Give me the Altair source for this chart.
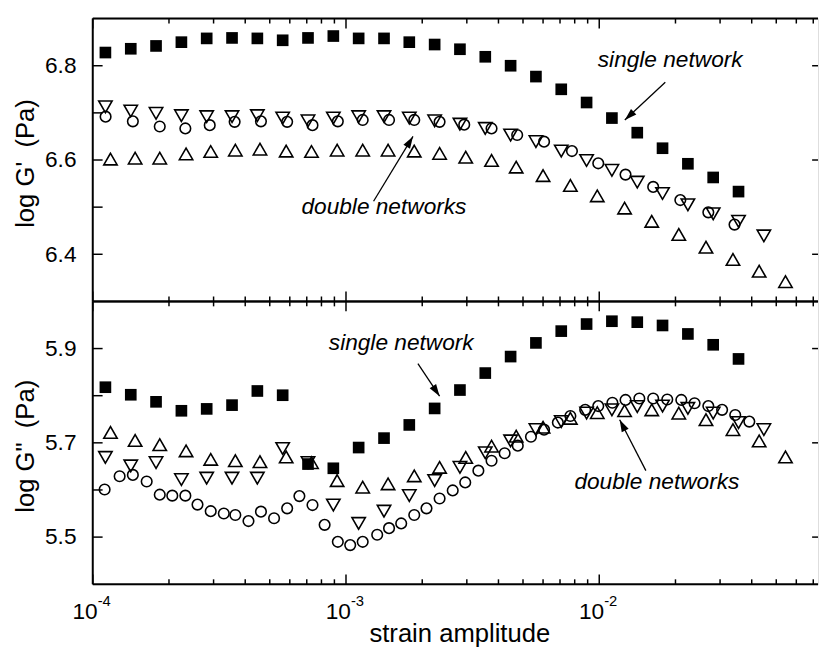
import math
import altair as alt
import pandas as pd

# ---------------- data ----------------
# strain amplitude of each series
strain_sq = [1.122e-4, 1.413e-4, 1.778e-4, 2.239e-4, 2.818e-4, 3.548e-4, 4.467e-4, 5.623e-4, 7.079e-4, 8.913e-4,
             1.122e-3, 1.413e-3, 1.778e-3, 2.239e-3, 2.818e-3, 3.548e-3, 4.467e-3, 5.623e-3, 7.079e-3, 8.913e-3,
             1.122e-2, 1.413e-2, 1.778e-2, 2.239e-2, 2.818e-2, 3.548e-2]
strain_dn = [1.122e-4, 1.413e-4, 1.778e-4, 2.239e-4, 2.818e-4, 3.548e-4, 4.467e-4, 5.623e-4, 7.079e-4, 8.913e-4,
             1.122e-3, 1.413e-3, 1.778e-3, 2.239e-3, 2.818e-3, 3.548e-3, 4.467e-3, 5.623e-3, 7.079e-3, 8.913e-3,
             1.122e-2, 1.413e-2, 1.778e-2, 2.239e-2, 2.818e-2, 3.548e-2, 4.467e-2]
strain_up = [1.175e-4, 1.470e-4, 1.839e-4, 2.336e-4, 2.923e-4, 3.656e-4, 4.574e-4, 5.805e-4, 7.308e-4, 9.226e-4,
             1.164e-3, 1.466e-3, 1.860e-3, 2.342e-3, 2.970e-3, 3.756e-3, 4.699e-3, 6.001e-3, 7.691e-3, 9.822e-3,
             1.259e-2, 1.612e-2, 2.061e-2, 2.639e-2, 3.373e-2, 4.280e-2, 5.437e-2]
strain_ci_top = [1.124e-4, 1.440e-4, 1.839e-4, 2.321e-4, 2.897e-4, 3.633e-4, 4.615e-4, 5.857e-4, 7.374e-4, 9.284e-4,
                 1.164e-3, 1.479e-3, 1.860e-3, 2.342e-3, 2.930e-3, 3.756e-3, 4.742e-3, 6.055e-3, 7.802e-3, 9.910e-3,
                 1.270e-2, 1.633e-2, 2.090e-2, 2.696e-2, 3.421e-2]
strain_ci_bot = [1.114e-4, 1.277e-4, 1.440e-4, 1.633e-4, 1.839e-4, 2.061e-4, 2.321e-4, 2.592e-4, 2.923e-4, 3.292e-4,
                 3.656e-4, 4.120e-4, 4.615e-4, 5.200e-4, 5.857e-4, 6.546e-4, 7.374e-4, 8.234e-4, 9.284e-4, 1.039e-3,
                 1.164e-3, 1.328e-3, 1.479e-3, 1.652e-3, 1.860e-3, 2.079e-3, 2.342e-3, 2.639e-3, 2.957e-3, 3.332e-3,
                 3.756e-3, 4.231e-3, 4.767e-3, 5.375e-3, 6.055e-3, 6.863e-3, 7.691e-3, 8.800e-3, 9.910e-3, 1.127e-2,
                 1.270e-2, 1.440e-2, 1.633e-2, 1.856e-2, 2.109e-2, 2.379e-2, 2.696e-2, 3.056e-2, 3.443e-2, 3.914e-2]

# log G' (top panel)
top_sq = [6.828, 6.836, 6.842, 6.850, 6.858, 6.859, 6.858, 6.854, 6.859, 6.863,
          6.858, 6.858, 6.850, 6.845, 6.835, 6.819, 6.800, 6.777, 6.750, 6.722,
          6.689, 6.658, 6.625, 6.592, 6.563, 6.533]
top_dn = [6.713, 6.704, 6.699, 6.694, 6.692, 6.692, 6.694, 6.689, 6.683, 6.689,
          6.692, 6.692, 6.689, 6.683, 6.676, 6.667, 6.653, 6.639, 6.619, 6.599,
          6.578, 6.553, 6.529, 6.505, 6.486, 6.470, 6.439]
top_up = [6.602, 6.604, 6.604, 6.613, 6.618, 6.621, 6.623, 6.619, 6.618, 6.621,
          6.621, 6.621, 6.619, 6.614, 6.606, 6.599, 6.585, 6.567, 6.546, 6.524,
          6.498, 6.470, 6.442, 6.415, 6.389, 6.364, 6.342]
top_ci = [6.692, 6.682, 6.671, 6.667, 6.674, 6.681, 6.682, 6.681, 6.674, 6.682,
          6.685, 6.685, 6.685, 6.681, 6.675, 6.667, 6.653, 6.639, 6.619, 6.593,
          6.569, 6.543, 6.515, 6.489, 6.463]

# log G'' (bottom panel)
bot_sq = [5.818, 5.802, 5.787, 5.768, 5.772, 5.780, 5.810, 5.801, 5.655, 5.646,
          5.690, 5.710, 5.738, 5.773, 5.812, 5.848, 5.883, 5.912, 5.937, 5.952,
          5.958, 5.956, 5.949, 5.931, 5.908, 5.878]
bot_dn = [5.669, 5.651, 5.658, 5.622, 5.625, 5.625, 5.625, 5.688, 5.658, 5.568,
          5.529, 5.555, 5.588, 5.620, 5.648, 5.679, 5.704, 5.728, 5.745, 5.763,
          5.770, 5.777, 5.778, 5.773, 5.763, 5.743, 5.728]
bot_up = [5.722, 5.705, 5.696, 5.683, 5.665, 5.662, 5.660, 5.670, 5.658, 5.620,
          5.606, 5.613, 5.630, 5.648, 5.669, 5.693, 5.714, 5.733, 5.752, 5.764,
          5.768, 5.770, 5.763, 5.749, 5.728, 5.704, 5.670]
bot_ci = [5.601, 5.629, 5.632, 5.618, 5.590, 5.588, 5.588, 5.569, 5.555, 5.550,
          5.547, 5.534, 5.554, 5.540, 5.561, 5.587, 5.568, 5.526, 5.490, 5.483,
          5.490, 5.505, 5.519, 5.529, 5.547, 5.561, 5.582, 5.599, 5.616, 5.641,
          5.662, 5.678, 5.694, 5.713, 5.728, 5.743, 5.757, 5.770, 5.778, 5.785,
          5.791, 5.794, 5.794, 5.792, 5.791, 5.784, 5.778, 5.770, 5.759, 5.745]

# axis ticks and labels
x_major = [1e-4, 1e-3, 1e-2]
x_major_base = ["10", "10", "10"]
x_major_exp = ["-4", "-3", "-2"]
x_minor = [2e-4, 3e-4, 4e-4, 5e-4, 6e-4, 7e-4, 8e-4, 9e-4,
           2e-3, 3e-3, 4e-3, 5e-3, 6e-3, 7e-3, 8e-3, 9e-3,
           2e-2, 3e-2, 4e-2, 5e-2, 6e-2, 7e-2]
top_ylabels = [6.4, 6.6, 6.8]
top_yticks = [6.4, 6.5, 6.6, 6.7, 6.8]
bot_ylabels = [5.5, 5.7, 5.9]
bot_yticks = [5.5, 5.6, 5.7, 5.8, 5.9]

# annotations: label position, arrow tail, arrow head (data units)
ann_top_label = ["single network", "double networks"]
ann_top_tx = [1.906e-2, 1.412e-3]
ann_top_ty = [6.798, 6.485]
ann_top_x0 = [1.823e-2, 1.285e-3]
ann_top_y0 = [6.765, 6.5125]
ann_top_x1 = [1.262e-2, 1.839e-3]
ann_top_y1 = [6.685, 6.650]

ann_bot_label = ["single network", "double networks"]
ann_bot_tx = [1.652e-3, 1.689e-2]
ann_bot_ty = [5.897, 5.602]
ann_bot_x0 = [1.923e-3, 1.528e-2]
ann_bot_y0 = [5.868, 5.641]
ann_bot_x1 = [2.342e-3, 1.204e-2]
ann_bot_y1 = [5.799, 5.749]

# ---------------- layout / style ----------------
W, H = 736, 287
XMIN, XMAX = 1e-4, 0.0731
FONT = "Liberation Sans"
ARROW = "M0,0L0.32,1L-0.32,1Z"


def px(s):
    return W * (math.log10(s) - math.log10(XMIN)) / (math.log10(XMAX) - math.log10(XMIN))


def py(v, lo, hi):
    return H * (hi - v) / (hi - lo)


def panel(series, ylo, yhi, ylabels, yticks, ytitle, ann, bottom):
    xs = alt.Scale(type="log", domain=[XMIN, XMAX], nice=False)
    ys = alt.Scale(domain=[ylo, yhi], nice=False, zero=False)
    yaxis = alt.Axis(values=ylabels, format=".1f", ticks=False, tickSize=0, domain=False, grid=False,
                     labelFontSize=23, labelFont=FONT, labelColor="black", labelPadding=17,
                     title=ytitle, titleFont=FONT, titleFontSize=26, titleFontWeight="normal",
                     titleColor="black", titleX=-68, titleY=H / 2 + 3, titleBaseline="middle",
                     titleAngle=270)
    if bottom:
        xaxis = alt.Axis(labels=False, ticks=False, tickSize=0, domain=False, grid=False,
                         title="strain amplitude", titleFont=FONT, titleFontSize=26,
                         titleFontWeight="normal", titleColor="black", titleY=58,
                         titleX=W / 2 + 4, titleBaseline="alphabetic")
    else:
        xaxis = None

    def X(field):
        return alt.X(field, type="quantitative", scale=xs, axis=xaxis)

    def Y(field):
        return alt.Y(field, type="quantitative", scale=ys, axis=yaxis)

    layers = []
    # data series first
    for xs_list, ys_list, shape, filled, size in series:
        df = pd.DataFrame({"strain": xs_list, "val": ys_list})
        layers.append(alt.Chart(df).mark_point(shape=shape, filled=filled, size=size, color="black",
                                               strokeWidth=1.6, opacity=1).encode(
            x=X("strain"), y=Y("val")))

    # frame (left, top, bottom)
    one = pd.DataFrame({"a": [0]})
    layers.append(alt.Chart(one).mark_rule(color="black", strokeWidth=2).encode(
        x=alt.value(0), y=alt.value(0), y2=alt.value(H)))
    layers.append(alt.Chart(one).mark_rule(color="black", strokeWidth=2).encode(
        x=alt.value(0), x2=alt.value(W), y=alt.value(0)))
    layers.append(alt.Chart(one).mark_rule(color="black", strokeWidth=2).encode(
        x=alt.value(0), x2=alt.value(W), y=alt.value(H)))

    # x ticks (inward, top and bottom)
    for vals, ln in ((x_major, 10), (x_minor, 5)):
        dft = pd.DataFrame({"strain": vals})
        for y0, y1 in ((0, ln), (H, H - ln)):
            layers.append(alt.Chart(dft).mark_rule(color="black", strokeWidth=1.5).encode(
                x=X("strain"), y=alt.value(y0), y2=alt.value(y1)))
    # y ticks (left all, right labelled)
    layers.append(alt.Chart(pd.DataFrame({"val": yticks})).mark_rule(color="black", strokeWidth=1.5).encode(
        y=Y("val"), x=alt.value(0), x2=alt.value(10)))
    layers.append(alt.Chart(pd.DataFrame({"val": ylabels})).mark_rule(color="black", strokeWidth=1.5).encode(
        y=Y("val"), x=alt.value(W - 6), x2=alt.value(W)))

    # annotations
    label, tx, ty, x0, y0, x1, y1 = ann
    angs = []
    for a, b, c, d in zip(x0, y0, x1, y1):
        dx = px(c) - px(a)
        dy = py(d, ylo, yhi) - py(b, ylo, yhi)
        angs.append(math.degrees(math.atan2(dx, -dy)) % 360)
    dft = pd.DataFrame({"label": label, "strain": tx, "val": ty})
    dfa = pd.DataFrame({"strain": x0, "val": y0, "x1": x1, "y1": y1})
    dfh = pd.DataFrame({"strain": x1, "val": y1, "ang": angs})
    layers.append(alt.Chart(dft).mark_text(font=FONT, fontSize=23, fontStyle="italic", align="center",
                                           baseline="alphabetic", color="black").encode(
        x=X("strain"), y=Y("val"), text="label:N"))
    layers.append(alt.Chart(dfa).mark_rule(color="black", strokeWidth=1.3).encode(
        x=X("strain"), y=Y("val"), x2="x1", y2="y1"))
    layers.append(alt.Chart(dfh).mark_point(shape=ARROW, filled=True, size=600, color="black",
                                            opacity=1).encode(
        x=X("strain"), y=Y("val"), angle=alt.Angle("ang:Q", scale=None)))

    if bottom:
        dfl = pd.DataFrame({"strain": x_major, "base": x_major_base, "exp": x_major_exp})
        layers.append(alt.Chart(dfl).mark_text(font=FONT, fontSize=23, align="right", baseline="alphabetic",
                                               dx=5, color="black").encode(
            x=X("strain"), y=alt.value(H + 35), text="base:N"))
        layers.append(alt.Chart(dfl).mark_text(font=FONT, fontSize=15, align="left", baseline="alphabetic",
                                               dx=5, color="black").encode(
            x=X("strain"), y=alt.value(H + 22), text="exp:N"))

    return alt.layer(*layers).properties(width=W, height=H)


top = panel(
    [(strain_up, top_up, "triangle-up", False, 185),
     (strain_dn, top_dn, "triangle-down", False, 185),
     (strain_ci_top, top_ci, "circle", False, 115),
     (strain_sq, top_sq, "square", True, 140)],
    6.3, 6.9, top_ylabels, top_yticks, "log G'\u00a0 (Pa)",
    (ann_top_label, ann_top_tx, ann_top_ty, ann_top_x0, ann_top_y0, ann_top_x1, ann_top_y1),
    False)

bottom = panel(
    [(strain_up, bot_up, "triangle-up", False, 185),
     (strain_dn, bot_dn, "triangle-down", False, 185),
     (strain_ci_bot, bot_ci, "circle", False, 115),
     (strain_sq, bot_sq, "square", True, 140)],
    5.4, 6.0, bot_ylabels, bot_yticks, "log G\"\u00a0 (Pa)",
    (ann_bot_label, ann_bot_tx, ann_bot_ty, ann_bot_x0, ann_bot_y0, ann_bot_x1, ann_bot_y1),
    True)

chart = alt.vconcat(top, bottom, spacing=0, bounds="flush").properties(
    padding={"left": 4, "top": 4, "right": 0, "bottom": 0}
).configure_view(stroke=None).configure(background="white")

chart.save("out.html", embed_options={"renderer": "svg", "actions": False})
